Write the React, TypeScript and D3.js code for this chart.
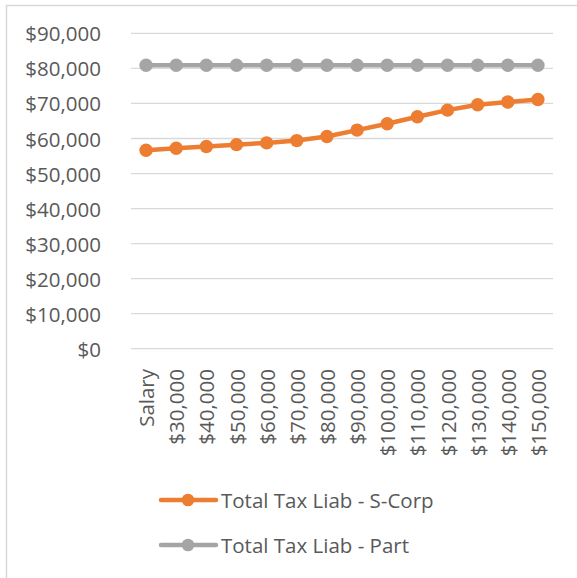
import React from "react";
import * as d3 from "d3";

const categories = [
  "Salary", "$30,000", "$40,000", "$50,000", "$60,000", "$70,000", "$80,000",
  "$90,000", "$100,000", "$110,000", "$120,000", "$130,000", "$140,000", "$150,000",
];
const sCorp = [
  56650, 57200, 57700, 58250, 58750, 59400, 60550, 62400, 64200, 66200, 68100, 69650, 70400, 71150,
];
const partnership = [
  80900, 80900, 80900, 80900, 80900, 80900, 80900, 80900, 80900, 80900, 80900, 80900, 80900, 80900,
];
const yTicks = [0, 10000, 20000, 30000, 40000, 50000, 60000, 70000, 80000, 90000];
const seriesNames = ["Total Tax Liab - S-Corp", "Total Tax Liab - Part"];

const W = 577;
const H = 578;
const FONT = "'Open Sans', sans-serif";
const TEXT = "#595959";
const ORANGE = "#ED7D31";
const GRAY = "#A5A5A5";

export default function App() {
  const x = d3.scaleBand().domain(categories).range([131, 553]);
  const cx = (c: string) => (x(c) as number) + x.bandwidth() / 2;
  const y = d3.scaleLinear().domain([0, 90000]).range([348.7, 33.4]);
  const fmt = (v: number) => "$" + d3.format(",")(v);

  const line = d3
    .line<number>()
    .x((_, i) => cx(categories[i]))
    .y((d) => y(d));

  const series = [
    { name: seriesNames[0], values: sCorp, color: ORANGE },
    { name: seriesNames[1], values: partnership, color: GRAY },
  ];

  return (
    <div style={{ position: "absolute", left: 0, top: 0 }}>
      <svg width={W} height={H} style={{ display: "block", fontFamily: FONT }}>
        <rect x={0} y={0} width={W} height={H} fill="#fff" />
        <rect x={6.5} y={5.5} width={W + 10} height={H + 10} fill="none" stroke="#d9d9d9" strokeWidth={1.5} />

        {/* grid + y labels */}
        {yTicks.map((t) => (
          <g key={t}>
            <line x1={131} x2={553} y1={y(t)} y2={y(t)} stroke="#d9d9d9" strokeWidth={1.3} />
            <text x={101} y={y(t)} textAnchor="end" dominantBaseline="central" fontSize={20.5} fill={TEXT}>
              {fmt(t)}
            </text>
          </g>
        ))}

        {/* x labels */}
        {categories.map((c) => (
          <text
            key={c}
            transform={`translate(${cx(c)},369) rotate(-90)`}
            textAnchor="end"
            dominantBaseline="central"
            fontSize={20.5}
            fill={TEXT}
          >
            {c}
          </text>
        ))}

        {/* series; draw gray first so it matches stacking */}
        {[...series].reverse().map((s) => (
          <g key={s.name}>
            <path d={line(s.values) as string} fill="none" stroke={s.color} strokeWidth={4.5} strokeLinejoin="round" strokeLinecap="round" />
            {s.values.map((v, i) => (
              <circle key={i} cx={cx(categories[i])} cy={y(v)} r={6.7} fill={s.color} />
            ))}
          </g>
        ))}

        {/* legend */}
        {series.map((s, i) => {
          const ly = 500 + i * 45;
          return (
            <g key={s.name}>
              <line x1={161} x2={216} y1={ly} y2={ly} stroke={s.color} strokeWidth={4.5} strokeLinecap="round" />
              <circle cx={188} cy={ly} r={6.3} fill={s.color} />
              <text x={221} y={ly} dominantBaseline="central" fontSize={20.5} fill={TEXT}>
                {s.name}
              </text>
            </g>
          );
        })}
      </svg>
    </div>
  );
}
